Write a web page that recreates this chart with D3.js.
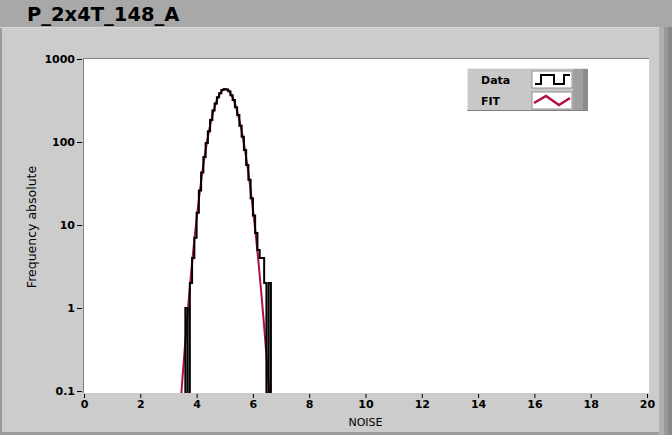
<!DOCTYPE html>
<html>
<head>
<meta charset="utf-8">
<script src="https://cdn.jsdelivr.net/npm/d3@7"></script>
<style>
  html, body { margin: 0; padding: 0; background: #cccccc; }
  svg { display: block; }
</style>
</head>
<body>
<svg id="chart" width="672" height="435"></svg>
<script>
// histogram bins (left edges) and counts
const binLeft = [3.60, 3.68, 3.76, 3.84, 3.92, 4.00, 4.08, 4.16, 4.24, 4.32,
  4.40, 4.48, 4.56, 4.64, 4.72, 4.80, 4.88, 4.96, 5.04, 5.12,
  5.20, 5.28, 5.36, 5.44, 5.52, 5.60, 5.68, 5.76, 5.84, 5.92,
  6.00, 6.08, 6.16, 6.24, 6.32, 6.40, 6.48, 6.56];
const binRight = 6.64;
const counts = [1, 0, 2, 4, 7, 14, 26, 43, 66, 97,
  135, 184, 239, 290, 346, 388, 422, 433, 430, 408,
  366, 320, 262, 211, 157, 116, 80, 53, 35, 21,
  13, 8, 5, 4, 4, 2, 0, 2];

// gaussian fit curve
const fitX = [3.4, 3.5, 3.6, 3.7, 3.8, 3.9, 4.0, 4.1, 4.2, 4.3, 4.4, 4.5, 4.6, 4.7, 4.8, 4.9,
  5.0, 5.1, 5.2, 5.3, 5.4, 5.5, 5.6, 5.7, 5.8, 5.9, 6.0, 6.1, 6.2, 6.3, 6.4, 6.5, 6.6];
const fitY = [0.049, 0.146, 0.40, 1.04, 2.52, 5.66, 11.9, 23.2, 42.4, 72.2, 115, 171, 236, 305, 368, 414,
  434, 425, 389, 332, 264, 196, 136, 87.7, 52.9, 29.8, 15.6, 7.66, 3.51, 1.50, 0.596, 0.221, 0.077];

const xTicks = [0, 2, 4, 6, 8, 10, 12, 14, 16, 18, 20];
const yTicks = [0.1, 1, 10, 100, 1000];
const yTickLabels = ["0.1", "1", "10", "100", "1000"];

const title = "P_2x4T_148_A";
const xTitle = "NOISE";
const yTitle = "Frequency absolute";
const legendNames = ["Data", "FIT"];

const svg = d3.select("#chart");
const W = 672, H = 435;
const pLeft = 84, pRight = 647, pTop = 59, pBottom = 391;
const fitColor = "#b01040";
const tickFont = "'DejaVu Sans', sans-serif";

// frame
svg.append("rect").attr("x", 0).attr("y", 0).attr("width", W).attr("height", 27).attr("fill", "#a8a8a8");
svg.append("rect").attr("x", 0).attr("y", 27).attr("width", W).attr("height", H - 27).attr("fill", "#cccccc");
svg.append("rect").attr("x", 0).attr("y", 27).attr("width", 2).attr("height", H - 27).attr("fill", "#9a9a9a");
svg.append("rect").attr("x", 0).attr("y", 27).attr("width", W).attr("height", 1).attr("fill", "#d8d8d8");
svg.append("rect").attr("x", 659).attr("y", 27).attr("width", 5).attr("height", H - 27).attr("fill", "#b0b0b0");
svg.append("rect").attr("x", 664).attr("y", 27).attr("width", 4).attr("height", H - 27).attr("fill", "#999999");
svg.append("rect").attr("x", 668).attr("y", 27).attr("width", 4).attr("height", H - 27).attr("fill", "#888888");
svg.append("rect").attr("x", 0).attr("y", 432).attr("width", 659).attr("height", 3).attr("fill", "#9a9a9a");

svg.append("text").attr("x", 27).attr("y", 21)
  .attr("font-family", tickFont).attr("font-weight", "bold").attr("font-size", 19.5)
  .text(title);

// scales
const x = d3.scaleLinear().domain([0, 20]).range([pLeft, pRight]);
const y = d3.scaleLog().domain([0.1, 1000]).range([pBottom, pTop]);
const yv = v => v <= 0 ? pBottom + 20 : y(v);

// plot area
svg.append("rect").attr("x", pLeft - 1).attr("y", pTop - 1).attr("width", 649 - pLeft + 1).attr("height", 393 - pTop + 1)
  .attr("fill", "#ffffff");
svg.append("line").attr("x1", pLeft - 1).attr("x2", 649).attr("y1", pTop - 0.5).attr("y2", pTop - 0.5).attr("stroke", "#808080");
svg.append("line").attr("x1", pLeft - 0.5).attr("x2", pLeft - 0.5).attr("y1", pTop - 1).attr("y2", 393).attr("stroke", "#808080");

svg.append("clipPath").attr("id", "clip").append("rect")
  .attr("x", pLeft).attr("y", pTop).attr("width", 649 - pLeft).attr("height", 393 - pTop);

// axes
const xAxis = svg.append("g").attr("transform", "translate(0,394)")
  .call(d3.axisBottom(x).tickValues(xTicks).tickSize(4).tickPadding(2).tickFormat(d3.format("d")));
const yAxis = svg.append("g").attr("transform", "translate(" + (pLeft - 2) + ",0)")
  .call(d3.axisLeft(y).tickValues(yTicks).tickSize(5).tickPadding(2).tickFormat((d, i) => yTickLabels[i]));
[xAxis, yAxis].forEach(a => {
  a.select(".domain").remove();
  a.selectAll("line").attr("stroke", "#000");
  a.selectAll("text").attr("font-family", tickFont).attr("font-weight", "bold")
    .attr("font-size", 11).attr("fill", "#000");
});

svg.append("text").attr("x", (pLeft + pRight) / 2).attr("y", 426).attr("text-anchor", "middle")
  .attr("font-family", tickFont).attr("font-size", 11).text(xTitle);
svg.append("text").attr("transform", "translate(36," + ((pTop + pBottom) / 2 + 2) + ") rotate(-90)")
  .attr("text-anchor", "middle")
  .attr("font-family", tickFont).attr("font-size", 12.5).text(yTitle);

// curves
const plot = svg.append("g").attr("clip-path", "url(#clip)");

const fitLine = d3.line().x((d, i) => x(fitX[i])).y(d => yv(d)).curve(d3.curveMonotoneX);
plot.append("path").attr("d", fitLine(fitY))
  .attr("fill", "none").attr("stroke", fitColor).attr("stroke-width", 2);

const stepPts = [[binLeft[0], 0]].concat(binLeft.map((b, i) => [b, counts[i]]), [[binRight, 0]]);
const stepLine = d3.line().x(d => x(d[0])).y(d => yv(d[1])).curve(d3.curveStepAfter);
plot.append("path").attr("d", stepLine(stepPts))
  .attr("fill", "none").attr("stroke", "#000").attr("stroke-width", 2);

// legend
const lg = svg.append("g").attr("transform", "translate(467,68)");
lg.append("rect").attr("x", 0).attr("y", 0).attr("width", 121).attr("height", 43).attr("fill", "#c8c8c8");
lg.append("rect").attr("x", 106).attr("y", 0).attr("width", 10).attr("height", 43).attr("fill", "#a0a0a0");
lg.append("rect").attr("x", 116).attr("y", 0).attr("width", 5).attr("height", 43).attr("fill", "#8c8c8c");
lg.append("line").attr("x1", 0).attr("x2", 121).attr("y1", 0.5).attr("y2", 0.5).attr("stroke", "#e8e8e8");
lg.append("line").attr("x1", 0.5).attr("x2", 0.5).attr("y1", 0).attr("y2", 43).attr("stroke", "#e8e8e8");
lg.append("line").attr("x1", 0).attr("x2", 121).attr("y1", 42.5).attr("y2", 42.5).attr("stroke", "#808080");

legendNames.forEach((name, i) => {
  const ry = i * 21;
  lg.append("text").attr("x", 14).attr("y", ry + 16)
    .attr("font-family", tickFont).attr("font-weight", "bold").attr("font-size", 11).text(name);
  lg.append("rect").attr("x", 65).attr("y", ry + 3).attr("width", 40).attr("height", 17)
    .attr("fill", "#fff").attr("stroke", "#909090");
});
lg.append("path").attr("d", "M68,16 H74 V7 H87 V16 H97 V7 H103")
  .attr("fill", "none").attr("stroke", "#000").attr("stroke-width", 2);
lg.append("path").attr("d", "M67,35 L79,28 L92,37 L103,30")
  .attr("fill", "none").attr("stroke", fitColor).attr("stroke-width", 2.5);
</script>
</body>
</html>
